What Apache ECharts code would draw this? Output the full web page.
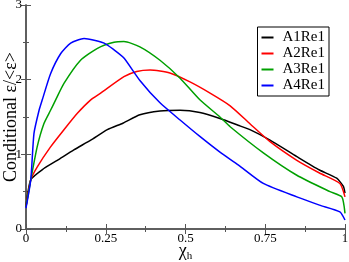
<!DOCTYPE html>
<html><head><meta charset="utf-8">
<script src="https://cdn.jsdelivr.net/npm/echarts@6/dist/echarts.min.js"></script>
<style>html,body{margin:0;padding:0;background:#fff}#c{width:349px;height:262px}</style>
</head><body><div id="c"></div>
<script>
const seriesNames = ['A1Re1', 'A2Re1', 'A3Re1', 'A4Re1'];
const colors = ['#000000', '#ff0000', '#00a000', '#0000ff'];
const xTicks = [0, 0.25, 0.5, 0.75, 1];
const yTicks = [0, 1, 2, 3];

const a1 = [[0,0.3],[0.015,0.66],[0.056,0.81],[0.098,0.92],[0.15,1.06],[0.203,1.19],[0.255,1.33],[0.305,1.42],[0.357,1.53],[0.42,1.58],[0.483,1.59],[0.545,1.56],[0.608,1.48],[0.665,1.39],[0.702,1.33],[0.765,1.19],[0.849,0.97],[0.92,0.79],[0.974,0.68],[0.995,0.57],[1.0,0.48]];
const a2 = [[0,0.3],[0.015,0.66],[0.035,0.83],[0.077,1.10],[0.119,1.33],[0.161,1.55],[0.203,1.73],[0.234,1.82],[0.307,2.04],[0.347,2.11],[0.389,2.13],[0.451,2.09],[0.514,1.97],[0.577,1.82],[0.64,1.65],[0.702,1.41],[0.765,1.17],[0.849,0.92],[0.92,0.75],[0.984,0.61],[1.0,0.43]];
const a3 = [[0,0.3],[0.015,0.66],[0.035,1.10],[0.056,1.41],[0.077,1.59],[0.093,1.73],[0.119,1.95],[0.171,2.26],[0.224,2.42],[0.276,2.50],[0.307,2.51],[0.357,2.44],[0.42,2.26],[0.483,2.02],[0.545,1.73],[0.608,1.50],[0.64,1.37],[0.744,1.02],[0.849,0.72],[0.953,0.50],[0.99,0.43],[1.0,0.21]];
const a4 = [[0,0.28],[0.015,0.66],[0.025,1.28],[0.041,1.59],[0.051,1.73],[0.077,2.08],[0.109,2.35],[0.14,2.49],[0.182,2.55],[0.245,2.49],[0.276,2.40],[0.307,2.29],[0.357,1.99],[0.42,1.69],[0.483,1.46],[0.545,1.24],[0.608,1.03],[0.665,0.86],[0.744,0.61],[0.849,0.43],[0.92,0.32],[0.984,0.23],[1.0,0.12]];
const allData = [a1, a2, a3, a4];

const font = 'serif';
const axisLine = {show: true, lineStyle: {color: '#555', width: 1.5}};
const tickStyle = {show: true, inside: true, length: 5, lineStyle: {color: '#555', width: 1}};
const minorStyle = {show: true, splitNumber: 2, length: 3, lineStyle: {color: '#555', width: 1}};

const chart = echarts.init(document.getElementById('c'));
chart.setOption({
  animation: false,
  backgroundColor: '#fff',
  textStyle: {fontFamily: font},
  grid: {left: 26, right: 4, top: 5, bottom: 33, containLabel: false, outerBoundsMode: 'none'},
  legend: {
    orient: 'vertical', right: 20, top: 27,
    data: seriesNames.map(n => ({name: n, icon: 'rect'})),
    itemWidth: 12, itemHeight: 2, itemGap: 1,
    borderColor: '#000', borderWidth: 1, padding: [3, 4, 3, 4],
    textStyle: {fontFamily: font, fontSize: 15, color: '#000', padding: [0, 0, 0, 4]}
  },
  xAxis: [{
    type: 'value', min: 0, max: 1, interval: 0.25,
    name: '{a|χ}{b|h}', nameLocation: 'middle', nameGap: 12, nameMoveOverlap: false,
    nameTextStyle: {fontFamily: font, rich: {a: {fontFamily: font, fontSize: 18, color: '#000'}, b: {fontFamily: font, fontSize: 11, color: '#000', verticalAlign: 'bottom', padding: [10, 0, 0, 0]}}},
    axisLine: axisLine, axisTick: tickStyle, minorTick: minorStyle, splitLine: {show: false},
    axisLabel: {fontFamily: font, fontSize: 13, color: '#000', margin: 3,
      formatter: v => xTicks.includes(v) ? String(v) : ''}
  }, {
    type: 'value', min: 0, max: 1, interval: 0.25, position: 'top',
    axisLine: axisLine, axisTick: tickStyle, minorTick: minorStyle, splitLine: {show: false},
    axisLabel: {show: false}
  }],
  yAxis: [{
    type: 'value', min: 0, max: 3, interval: 1,
    name: 'Conditional ε/<ε>', nameLocation: 'middle', nameGap: 6, nameMoveOverlap: false,
    nameTextStyle: {fontFamily: font, fontSize: 18, color: '#000'},
    axisLine: axisLine, axisTick: tickStyle, minorTick: minorStyle, splitLine: {show: false},
    axisLabel: {fontFamily: font, fontSize: 13, color: '#000', margin: 4,
      formatter: v => yTicks.includes(v) ? String(v) : ''}
  }, {
    type: 'value', min: 0, max: 3, interval: 1, position: 'right',
    axisLine: axisLine, axisTick: tickStyle, minorTick: minorStyle, splitLine: {show: false},
    axisLabel: {show: false}
  }],
  series: allData.map((d, i) => ({
    name: seriesNames[i], type: 'line', data: d, smooth: 0.2,
    showSymbol: false, symbol: 'none',
    lineStyle: {color: colors[i], width: 1.5}, itemStyle: {color: colors[i]},
    z: 2 + i
  }))
});
</script></body></html>
